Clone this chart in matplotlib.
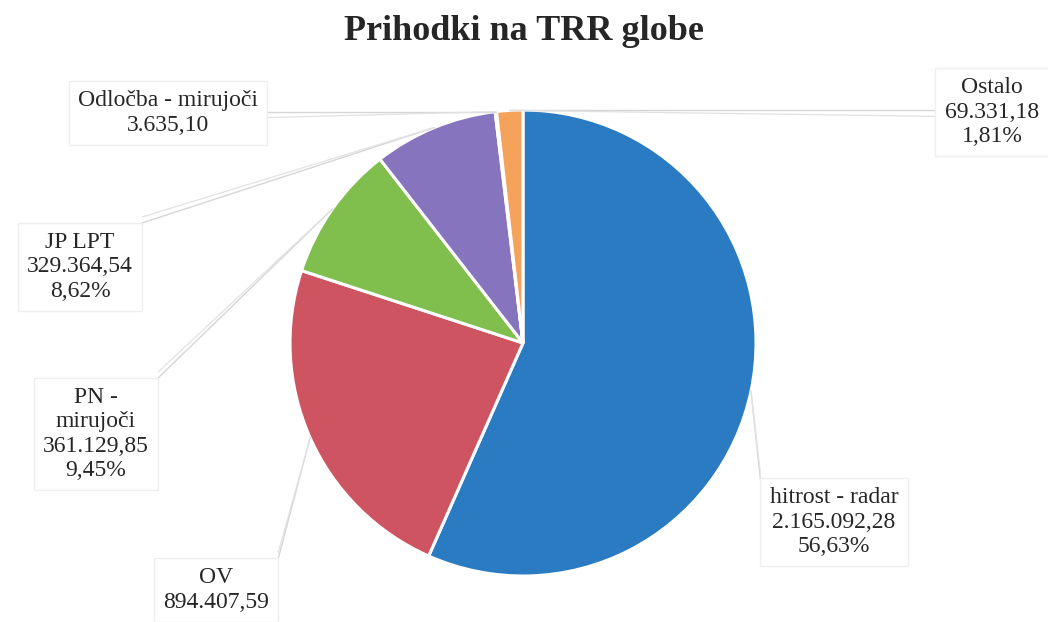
import matplotlib
matplotlib.use("Agg")
import matplotlib.pyplot as plt
import numpy as np

# ---- data ----
categories = ["hitrost - radar", "OV", "PN -\nmirujoči", "JP LPT", "Odločba - mirujoči", "Ostalo"]
values = [2165092.28, 894407.59, 361129.85, 329364.54, 3635.10, 69331.18]
show_percent = [True, False, True, True, False, True]
colors = ["#2A7BC2", "#CE5462", "#80BE4E", "#8675BE", "#9EC3E6", "#F5A25A"]
title = "Prihodki na TRR globe"

# label text centres in pixel coords (x, y from top)
label_pos = [(834, 522), (216, 590), (96, 434), (80, 267), (168, 113), (992, 112)]

W, H = 1048, 622
plt.rcParams['font.family'] = ['Liberation Serif', 'DejaVu Serif']

fig = plt.figure(figsize=(W / 100, H / 100), dpi=100)
ax = fig.add_axes([0, 0, 1, 1])

cx, cy, R = 523, H - 343, 233
wedges, _ = ax.pie(values, colors=colors, startangle=90, counterclock=False,
                   center=(cx, cy), radius=R,
                   wedgeprops=dict(edgecolor="white", linewidth=2.2))
ax.set_xlim(0, W)
ax.set_ylim(0, H)
ax.set_aspect("equal")
ax.axis("off")

total = sum(values)

def fmt(v):
    s = f"{v:,.2f}"
    return s.replace(",", "X").replace(".", ",").replace("X", ".")

fig.canvas.draw()
for w, cat, v, sp, (lx, ly) in zip(wedges, categories, values, show_percent, label_pos):
    txt = cat + "\n" + fmt(v)
    if sp:
        txt += "\n" + f"{v / total * 100:.2f}".replace(".", ",") + "%"
    mid = np.deg2rad((w.theta1 + w.theta2) / 2)
    px, py = cx + R * np.cos(mid), cy + R * np.sin(mid)
    ty = H - ly
    t = ax.text(lx, ty, txt, ha="center", va="center", fontsize=17, color="#262626",
                linespacing=1.2, zorder=5,
                bbox=dict(boxstyle="square,pad=0.4", fc="white", ec="#EFEFEF", lw=1))
    fig.canvas.draw()
    bb = t.get_bbox_patch().get_window_extent().transformed(ax.transData.inverted())
    bx = min(max(px, bb.x0), bb.x1)
    by = min(max(py, bb.y0), bb.y1)
    ax.plot([bx, px], [by, py], color="#D6D6D6", lw=1.0, zorder=1)
    ax.plot([bx, px], [by + (6 if by < py else -6), py],
            color="#E2E2E2", lw=0.9, zorder=1)

ax.text(W / 2, H - 31, title, ha="center", va="center", fontsize=26,
        fontweight="bold", color="#262626")

fig.savefig("out.png", dpi=100)
